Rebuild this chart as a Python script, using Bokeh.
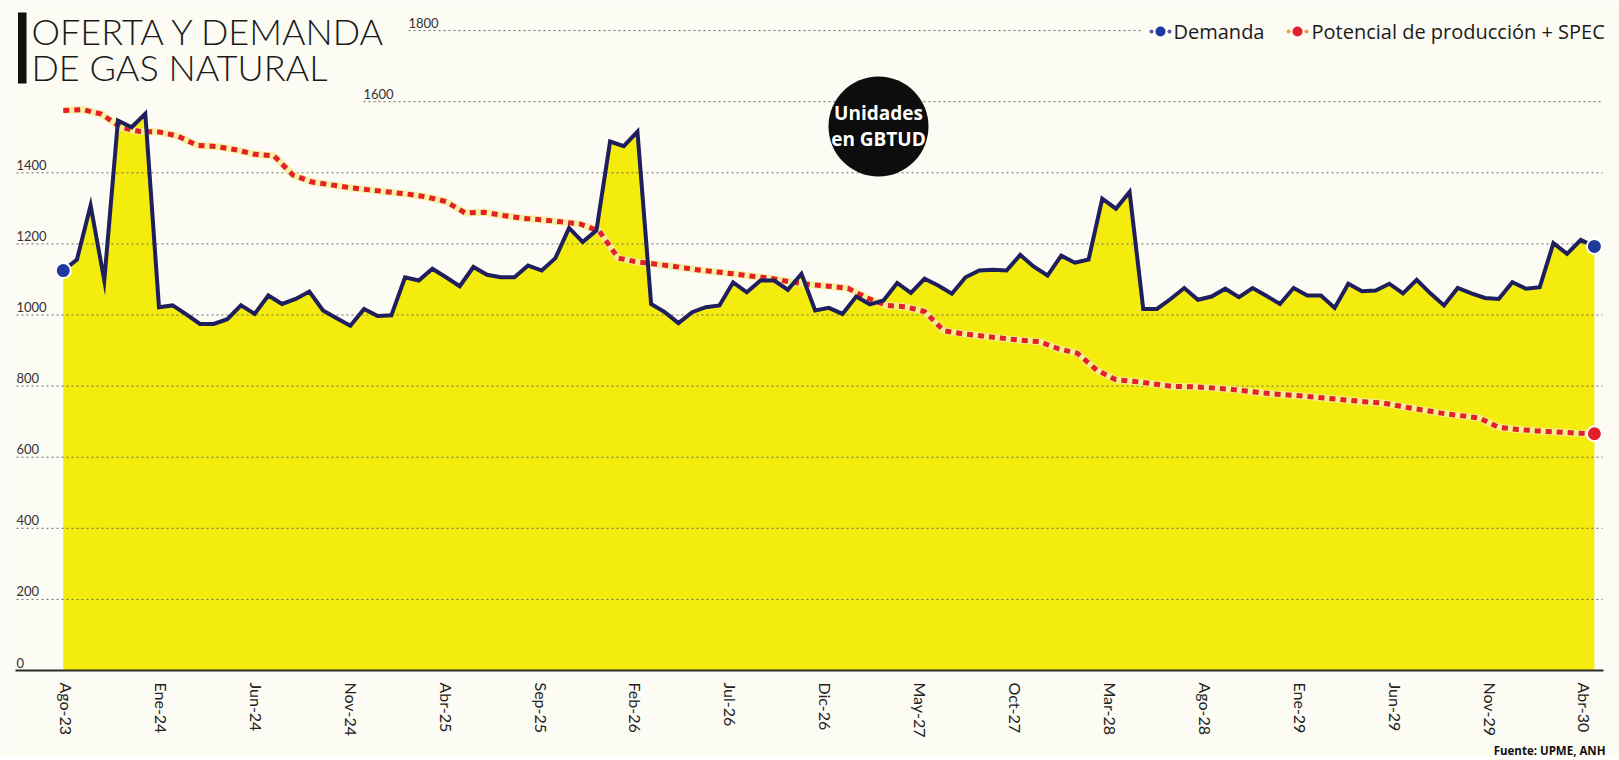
import numpy as np
from bokeh.plotting import figure
from bokeh.models import Range1d, FixedTicker, Title, ColumnDataSource
from bokeh.core.properties import value
from bokeh.embed import file_html
from bokeh.resources import INLINE

# ---------------- data ----------------
tick_labels = ["Ago-23", "Ene-24", "Jun-24", "Nov-24", "Abr-25", "Sep-25", "Feb-26",
               "Jul-26", "Dic-26", "May-27", "Oct-27", "Mar-28", "Ago-28", "Ene-29",
               "Jun-29", "Nov-29", "Abr-30"]
tick_months = list(range(0, 81, 5))

demanda = [1125, 1156, 1308, 1097, 1547, 1528, 1566, 1022, 1027, 1002,
           975, 975, 988, 1027, 1003, 1055, 1031, 1045, 1066, 1013,
           991, 970, 1017, 997, 999, 1106, 1097, 1130, 1106, 1081,
           1135, 1113, 1106, 1106, 1139, 1125, 1160, 1245, 1205, 1238,
           1488, 1475, 1516, 1031, 1008, 977, 1008, 1022, 1027, 1092,
           1064, 1097, 1097, 1071, 1116, 1013, 1020, 1003, 1052, 1030,
           1041, 1090, 1062, 1102, 1083, 1060, 1106, 1125, 1127, 1125,
           1169, 1136, 1111, 1167, 1147, 1156, 1327, 1299, 1346, 1017,
           1017, 1045, 1076, 1043, 1052, 1074, 1050, 1076, 1054, 1031,
           1076, 1055, 1055, 1020, 1088, 1067, 1069, 1088, 1061, 1099,
           1061, 1027, 1076, 1061, 1048, 1045, 1092, 1074, 1078, 1202,
           1172, 1211, 1193]

potencial = [1575, 1578, 1565, 1528, 1516, 1515, 1503, 1477, 1474, 1465,
             1452, 1448, 1394, 1374, 1366, 1358, 1352, 1346, 1340, 1332,
             1319, 1287, 1289, 1280, 1272, 1268, 1262, 1256, 1236, 1160,
             1149, 1143, 1136, 1128, 1122, 1116, 1109, 1103, 1093, 1086,
             1081, 1075, 1048, 1027, 1023, 1010, 956, 947, 941, 935,
             929, 925, 905, 892, 845, 818, 813, 806, 799, 798,
             795, 791, 785, 779, 775, 771, 766, 761, 756, 752,
             742, 733, 724, 717, 710, 684, 678, 674, 671, 668,
             666]

y_ticks = [0, 200, 400, 600, 800, 1000, 1200, 1400, 1600, 1800]

# both series run from just before the Ago-23 tick to just past the Abr-30 tick
series_start, series_end = -0.17, 80.5
x_dem = np.linspace(series_start, series_end, len(demanda))
x_pot = np.linspace(series_start, series_end, len(potencial))

# --------------- layout helpers (page px -> data) ---------------
PPM = 18.98          # px per month
X0 = 66.0            # page x of the Ago-23 tick
PPU = 0.3555         # px per unit
Y0 = 670.0           # page y of value 0
PAD = 2              # frame extends a few px below the zero line


def dx(px):
    return (px - X0) / PPM


def dy(py):
    return (Y0 - py) / PPU


FW, FH = 1619, int(Y0) + PAD
x_start = dx(0)
x_end = dx(FW)
y_end = dy(0)
y_start = dy(Y0 + PAD)

BG = "#fcfbf4"
YELLOW = "#f3ec0c"
NAVY = "#1e1f5c"
BLUE = "#1f3a9c"
RED = "#e3202a"

p = figure(frame_width=FW, frame_height=FH,
           x_range=Range1d(x_start, x_end), y_range=Range1d(y_start, y_end),
           output_backend="svg", toolbar_location=None,
           y_axis_location=None, min_border=0,
           background_fill_color=BG, border_fill_color=BG)
p.outline_line_color = None
p.xgrid.visible = False
p.ygrid.visible = False

# x axis
ax = p.xaxis[0]
ax.ticker = FixedTicker(ticks=tick_months)
ax.major_label_overrides = {m: lab for m, lab in zip(tick_months, tick_labels)}
ax.major_label_orientation = "vertical"
ax.major_label_text_font = "Lato"
ax.major_label_text_font_size = "16px"
ax.major_label_text_color = "#222222"
ax.major_label_standoff = 4
ax.major_tick_line_color = None
ax.minor_tick_line_color = None
ax.axis_line_color = None

src = Title(text="Fuente: UPME, ANH", align="right", text_font="Open Sans",
            text_font_size="11.5px", text_font_style="bold", text_color="#111111",
            standoff=0, offset=14)
p.add_layout(src, "below")

# area
p.varea(x=x_dem, y1=0, y2=demanda, fill_color=YELLOW)

# grid lines + labels
gx0 = [dx(408) if v == 1800 else dx(363) if v == 1600 else dx(16) for v in y_ticks]
gx1 = [dx(1140) if v == 1800 else dx(1602) for v in y_ticks]
grid_src = ColumnDataSource(dict(x0=gx0[1:], x1=gx1[1:], y=y_ticks[1:]))
p.segment(x0="x0", y0="y", x1="x1", y1="y", source=grid_src,
          line_color="#6a6a66", line_width=1, line_dash="2 3")
p.text(x=gx0, y=y_ticks, text=[str(v) for v in y_ticks],
       text_font=value("Lato"), text_font_size="13px", text_color="#333333",
       text_baseline="bottom", text_align="left", y_offset=-3)

# zero baseline
p.segment(x0=[dx(15)], y0=[0], x1=[dx(1603)], y1=[0],
          line_color="#2a2a2a", line_width=2)

# supply line (dotted red with pale halo)
p.line(x_pot, potencial, line_color="#f5ee9a", line_width=7, line_alpha=0.9)
p.line(x_pot, potencial, line_color=RED, line_width=5, line_dash="6 5")

# demand line
p.line(x_dem, demanda, line_color=NAVY, line_width=4, line_join="miter")

# end points
p.scatter([x_dem[0], x_dem[-1]], [demanda[0], demanda[-1]], size=15,
          fill_color=BLUE, line_color="white", line_width=2)
p.scatter([x_pot[-1]], [potencial[-1]], size=15,
          fill_color=RED, line_color="white", line_width=2)

# title
p.quad(left=dx(17.5), right=dx(26), top=dy(12), bottom=dy(83),
       fill_color="#111111", line_color=None)
p.text(x=[dx(31), dx(31)], y=[dy(30), dy(66)],
       text=["OFERTA Y DEMANDA", "DE GAS NATURAL"],
       text_font=value("Lato Light"), text_font_size="36px",
       text_color="#1a1a1a", text_baseline="alphabetic", text_align="left")

# legend
ly = dy(31)
p.scatter([dx(1151), dx(1169)], [ly, ly], size=4, fill_color="#6a4fa8", line_color=None)
p.scatter([dx(1160)], [ly], size=10, fill_color=BLUE, line_color=None)
p.text(x=[dx(1173)], y=[ly], text=["Demanda"], text_font=value("Open Sans"),
       text_font_size="20px", text_color="#1a1a1a", text_baseline="middle")
p.scatter([dx(1288), dx(1306)], [ly, ly], size=4, fill_color="#f0a030", line_color=None)
p.scatter([dx(1297)], [ly], size=10, fill_color=RED, line_color=None)
p.text(x=[dx(1311)], y=[ly], text=["Potencial de producción + SPEC"],
       text_font=value("Open Sans"), text_font_size="20px", text_color="#1a1a1a",
       text_baseline="middle")

# units badge
p.scatter([dx(878)], [dy(126)], size=100, fill_color="#0d0d0d", line_color=None)
p.text(x=[dx(878), dx(878)], y=[dy(112), dy(138)], text=["Unidades", "en GBTUD"],
       text_font=value("Open Sans"), text_font_size="19px", text_font_style="bold",
       text_color="white", text_align="center", text_baseline="middle")

open("out.html", "w").write(file_html(p, INLINE))
